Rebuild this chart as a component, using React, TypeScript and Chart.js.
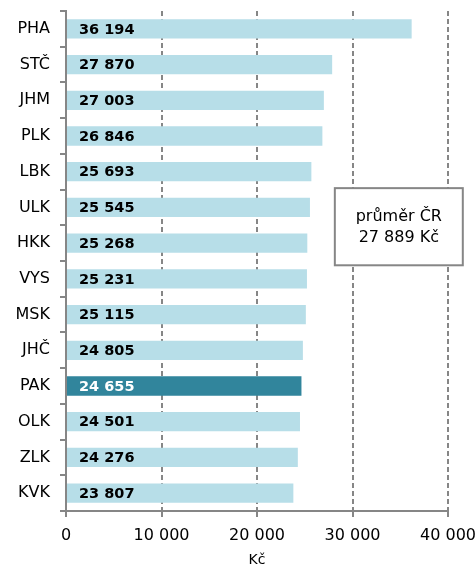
import React, { useEffect, useRef } from "react";
import { Chart, registerables } from "chart.js";

Chart.register(...registerables);

const regions = ["PHA", "STČ", "JHM", "PLK", "LBK", "ULK", "HKK", "VYS", "MSK", "JHČ", "PAK", "OLK", "ZLK", "KVK"];
const wages = [36194, 27870, 27003, 26846, 25693, 25545, 25268, 25231, 25115, 24805, 24655, 24501, 24276, 23807];
const highlightRegion = "PAK";
const xMin = 0;
const xMax = 40000;
const xStep = 10000;
const axisTitle = "Kč";
const averageLines = ["průměr ČR", "27 889 Kč"];

const LIGHT = "#b7dee8";
const DARK = "#31859c";
const GRAY = "#868686";
const FONT = "'DejaVu Sans', sans-serif";

const fmt = (n: number) => String(n).replace(/\B(?=(\d{3})+(?!\d))/g, " ");

const valueLabels = {
  id: "valueLabels",
  afterDatasetsDraw(chart: any) {
    const { ctx } = chart;
    const meta = chart.getDatasetMeta(0);
    const xs = chart.scales.x;
    ctx.save();
    ctx.font = `bold 14.5px ${FONT}`;
    ctx.textBaseline = "middle";
    ctx.textAlign = "left";
    meta.data.forEach((bar: any, i: number) => {
      ctx.fillStyle = regions[i] === highlightRegion ? "#ffffff" : "#000000";
      ctx.fillText(fmt(wages[i]), xs.left + 13, bar.y + 1);
    });
    ctx.restore();
  },
};

const averageBox = {
  id: "averageBox",
  afterDraw(chart: any) {
    const { ctx } = chart;
    const xs = chart.scales.x;
    const ys = chart.scales.y;
    const left = xs.getPixelForValue(28150);
    const right = xs.getPixelForValue(41550);
    const top = ys.getPixelForValue(4.46);
    const bottom = ys.getPixelForValue(6.62);
    ctx.save();
    ctx.fillStyle = "#ffffff";
    ctx.fillRect(left, top, right - left, bottom - top);
    ctx.strokeStyle = GRAY;
    ctx.lineWidth = 2;
    ctx.strokeRect(left, top, right - left, bottom - top);
    ctx.fillStyle = "#000000";
    ctx.font = `16px ${FONT}`;
    ctx.textAlign = "center";
    ctx.textBaseline = "middle";
    const cx = (left + right) / 2;
    const cy = (top + bottom) / 2;
    ctx.fillText(averageLines[0], cx, cy - 10);
    ctx.fillText(averageLines[1], cx, cy + 11);
    ctx.restore();
  },
};

export default function App() {
  const ref = useRef<HTMLCanvasElement | null>(null);
  useEffect(() => {
    if (!ref.current) return;
    const chart = new Chart(ref.current, {
      type: "bar",
      data: {
        labels: regions,
        datasets: [
          {
            data: wages,
            backgroundColor: regions.map((r) => (r === highlightRegion ? DARK : LIGHT)),
            borderWidth: 0,
            barPercentage: 0.54,
            categoryPercentage: 1,
          },
        ],
      },
      options: {
        indexAxis: "y",
        responsive: false,
        animation: false,
        layout: { padding: { top: 11, right: 28, left: 0, bottom: 0 } },
        plugins: { legend: { display: false }, tooltip: { enabled: false } },
        scales: {
          x: {
            min: xMin,
            max: xMax,
            ticks: {
              stepSize: xStep,
              color: "#000",
              font: { family: FONT, size: 16 },
              padding: 9,
              maxRotation: 0,
              callback: (v: any) => fmt(Number(v)),
            },
            grid: {
              color: (c: any) => (c.tick && c.tick.value === 0 ? "rgba(0,0,0,0)" : GRAY),
              lineWidth: 2,
              tickLength: 6,
              tickColor: GRAY,
              tickWidth: 2,
            },
            border: { color: GRAY, width: 2, dash: [5, 3] },
            title: {
              display: true,
              text: axisTitle,
              color: "#000",
              font: { family: FONT, size: 14 },
              padding: { top: 0, bottom: -3 },
            },
            afterFit: (s: any) => {
              s.height = 55;
              s.paddingLeft = 0;
              s.paddingRight = 0;
            },
          },
          y: {
            ticks: {
              color: "#000",
              font: { family: FONT, size: 16 },
              padding: 10,
            },
            grid: {
              offset: true,
              drawOnChartArea: false,
              color: GRAY,
              lineWidth: 2,
              tickLength: 6,
            },
            border: { color: GRAY, width: 2 },
            afterFit: (s: any) => {
              s.width = 66;
              s.paddingTop = 0;
              s.paddingBottom = 0;
            },
          },
        },
      },
      plugins: [valueLabels, averageBox],
    });
    return () => chart.destroy();
  }, []);
  return (
    <div style={{ position: "absolute", left: 0, top: 0, width: 476, height: 566, background: "#fff" }}>
      <canvas ref={ref} width={476} height={566} />
    </div>
  );
}
